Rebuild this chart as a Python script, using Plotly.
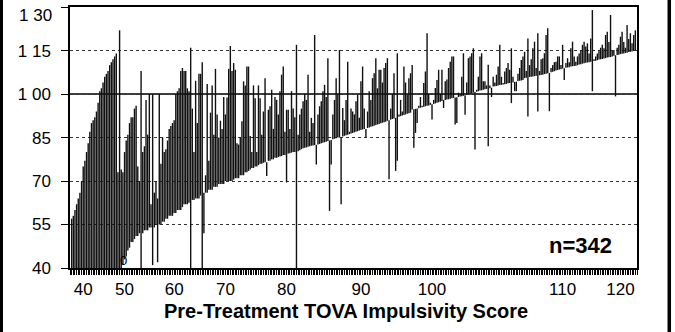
import plotly.graph_objects as go

# ---------------- data ----------------
# one vertical line per subject, ordered by pre-treatment TOVA score
pre = [
    40, 40, 40, 40, 40, 40, 40, 40, 40, 40, 40, 40, 40, 40, 40, 40, 40, 40, 40, 40,
    40, 40, 40, 40, 40, 40, 40, 40, 40, 40,
    40, 41, 43, 44, 46, 47, 49, 49, 50, 51, 51, 52, 40, 52, 53, 53, 53, 54, 54, 41,
    54, 55, 42, 55, 55, 56, 56, 57, 57, 58, 58, 58, 59, 59, 60, 60, 60, 61,
    # 68-136
    62, 62, 62, 62.5, 40, 63.5, 63.5, 64, 64, 64, 65, 40, 66, 66, 66, 67, 67, 67, 68, 68,
    68, 69, 69, 69, 69, 70, 70, 70, 70, 70, 70.5, 71, 71, 71, 72, 72, 72, 73, 73, 73.5,
    74, 74.5, 74.5, 75, 75, 75.5, 76, 76, 76.3, 76.5, 76.5, 77, 77, 77.5, 77.5, 78, 78, 78.3, 78.5, 78.6,
    79, 79, 69.5, 79.5, 79.6, 79.8, 80, 80, 40,
    # 137-205
    80.3, 80.6, 81, 81.3, 81.5, 81.6, 81.8, 82, 82.2, 82.3, 82.4, 82.5, 82.6, 82.8, 83, 83.2, 83.4, 83.6, 83.8, 84,
    84.2, 84.4, 84.6, 84.8, 85, 85, 85, 85.4, 85.6, 85.8, 86, 86.2, 86.4, 86.6, 86.8, 87, 87.2, 87.4, 87.6, 87.8,
    88, 88, 88.3, 88.5, 88.7, 88.9, 89.1, 89.3, 89.5, 89.7, 89.9, 90.1, 90.3, 90.5, 90.8, 91, 91.2, 91.4, 91.6, 91.8,
    77, 92.2, 92.4, 92.6, 92.8, 93, 93.2, 93.4, 93.6,
    # 206-273
    94.7, 94.8, 94.9, 95, 95.1, 95.3, 95.5, 95.6, 95.8, 96, 96.1, 96.3, 96.5, 96.6, 96.8, 97, 97.2, 97.4, 97.6, 98,
    98, 98.1, 98.2, 98.4, 98.6, 98.7, 98.8, 98.9, 99, 99.2, 99.3, 99.4, 99.6, 99.8, 100, 100.1, 100.3, 100.5, 100.7, 100.8,
    101, 101.2, 101.3, 101.5, 101.7, 101.8, 82, 102, 102.2, 102.6, 102.7, 102.8, 103, 103.1, 103.2, 103.3, 103.4, 103.5, 103.7, 103.8,
    96.9, 104, 104.2, 104.3, 104.5, 104.6, 104.7, 104.9,
    # 274-341
    105.5, 105.6, 92.3, 105.9, 106, 106.1, 106.2, 106.3, 94, 106.5, 106.6, 106.7, 106.9, 107, 107.2, 107.3, 107.5, 107.7, 107.9, 108.1,
    108.3, 108.5, 108.6, 108.8, 108.9, 109.1, 109.2, 109.3, 109.5, 109.6, 109.7, 109.8, 110, 110.2, 110.3, 110.5, 110.6, 110.8, 110.9, 111,
    111.2, 101, 111.4, 111.5, 111.7, 111.9, 112, 112.1, 112.3, 112.4, 112.6, 112.7, 112.8, 113, 113.2, 113.4, 113.5, 113.6, 113.8, 113.9,
    114, 114.2, 114.3, 114.5, 114.6, 114.7, 114.9, 115,
]

post = [
    57, 58, 60, 62, 64, 66, 70, 75, 77, 80, 83, 87, 90, 91, 92, 94, 97, 101, 102, 104,
    106, 107, 108, 110, 111, 112, 113, 114, 73, 122,
    74, 73, 80, 84, 86, 90, 92, 92, 95, 96, 75, 70, 108, 80, 82, 98, 86, 100, 62, 100,
    66, 70, 64, 100, 76, 85, 80, 81, 84, 88, 89, 90, 91, 100, 101, 102, 108, 109,
    # 68-136
    108, 108, 102, 101, 116, 95, 80, 104.6, 90, 107, 107, 111, 52, 72, 103.5, 77, 93.6, 103, 86, 108.7,
    93, 85, 90.8, 88, 99, 93, 98.8, 108.7, 116.6, 108, 110.7, 108.4, 83, 82.6, 85, 90.6, 104.4, 103, 109.5, 109.5,
    85.5, 80, 103, 98.6, 80, 103, 98.6, 86, 94, 105.5, 71.7, 94.6, 95.8, 101.5, 88, 99, 98, 93, 101, 106.7,
    109.5, 87, 94.6, 94.6, 88, 101, 95, 92, 117,
    # 137-205
    86, 93, 95, 97.5, 100, 98, 106.7, 87, 91.8, 90, 120.4, 75.7, 93, 95.8, 97.5, 101, 103.2, 99, 112.4, 59.7,
    75.7, 93, 98, 105.5, 100, 115.2, 62, 95.2, 91, 98, 111.2, 87, 95, 94, 93, 97.5, 99.8, 91.8, 104.4, 109.5,
    95, 85, 94, 101, 98, 105.5, 107.2, 112.4, 102, 108.4, 108.4, 104, 109, 110.7, 112.4, 70.6, 95, 100, 107.2, 73.5,
    114.1, 93, 98, 94, 109.5, 104, 99.8, 105.5, 107.2,
    # 206-273
    110, 81.5, 86.6, 90, 96, 99, 96, 103.8, 107.8, 121, 100, 97, 91.2, 98, 102.1, 104.9, 108.4, 100, 108.4, 95.2,
    104.4, 105, 109, 111.2, 113, 113, 89.5, 90, 100.5, 100, 106, 114.1, 92.9, 104, 112.4, 113, 114.1, 115.8, 80.9, 101.5,
    106, 113, 114.1, 104.4, 104.4, 103, 110.1, 103, 99, 106, 104, 106.7, 109.5, 117, 106, 103.8, 107.8, 109, 110.7, 108.4,
    115.8, 106, 101, 101, 107, 109, 111.8, 113,
    # 274-341
    114.6, 108, 119.2, 110, 112, 115.8, 118.1, 109, 121, 108, 112, 112.4, 114.1, 120.4, 122.7, 94.1, 109, 110, 111, 111.2,
    113, 113, 110, 117, 104.9, 110.7, 112.4, 111, 115.8, 118.1, 113, 111.2, 113, 114, 115.2, 117, 118.1, 116.4, 117.5, 114,
    119.2, 129, 112, 113, 114, 115, 116, 117, 115.8, 120.4, 121.5, 118, 127.3, 115, 115.2, 99.2, 116, 117, 119.8, 121.5,
    118, 116, 123.8, 119, 121, 117.5, 120.4, 122,
]

x_tick_index = [7, 32, 62, 93, 130, 175, 218, 297, 332]
x_tick_labels = ["40", "50", "60", "70", "80", "90", "100", "110", "120"]
y_tick_vals = [40, 55, 70, 85, 100, 115, 130]
y_tick_labels = ["40", "55", "70", "85", "1 00", "1 15", "1 30"]
x_title = "Pre-Treatment TOVA Impulsivity Score"
n_label = "n=342"

# ---------------- figure ----------------
xs, ys = [], []
for i, (a, b) in enumerate(zip(pre, post)):
    xs += [i, i, None]
    ys += [a, b, None]

FONT = "Liberation Sans, Arial, Helvetica, sans-serif"

fig = go.Figure()
fig.add_trace(go.Scatter(x=xs, y=ys, mode="lines",
                         line=dict(color="#111111", width=1.4),
                         hoverinfo="skip", showlegend=False))

fig.update_layout(
    width=675, height=332,
    margin=dict(l=70, r=38, t=7, b=64),
    paper_bgcolor="white", plot_bgcolor="white",
    showlegend=False,
    font=dict(family=FONT, color="black"),
)

fig.update_xaxes(
    range=[-1, len(pre)], automargin=False,
    tickmode="array", tickvals=x_tick_index, ticktext=x_tick_labels,
    ticks="outside", ticklen=5, tickcolor="black", tickwidth=1.2,
    tickfont=dict(family=FONT, size=17, color="black"),
    showline=True, linecolor="black", linewidth=1.5, mirror=True,
    showgrid=False, zeroline=False,
    minor=dict(tickmode="linear", tick0=0, dtick=1, ticks="outside",
               ticklen=5, tickcolor="black", tickwidth=1, showgrid=False),
)

# the top label sits a little below its tick in the original, so it is an annotation
y_ticktext_axis = y_tick_labels[:-1] + [""]
fig.update_yaxes(
    range=[40, 130.05], automargin=False,
    tickmode="array", tickvals=y_tick_vals, ticktext=y_ticktext_axis,
    ticks="outside", ticklen=7, tickcolor="black", tickwidth=1,
    tickfont=dict(family=FONT, size=17, color="black"),
    ticklabelstandoff=7,
    showline=True, linecolor="black", linewidth=1.5, mirror=True,
    showgrid=True, gridcolor="#333333", gridwidth=1.2, griddash="dot",
    zeroline=False,
)
fig.add_annotation(text=y_tick_labels[-1], xref="paper", yref="y",
                   x=-0.0275, y=y_tick_vals[-1], yshift=-8,
                   xanchor="right", yanchor="middle", showarrow=False,
                   font=dict(family=FONT, size=17, color="black"))

# solid reference line at 100
fig.add_shape(type="line", xref="paper", yref="y", x0=0, x1=1, y0=100, y1=100,
              line=dict(color="black", width=1.5), layer="below")

# outer frame bars (left and right of the scanned page)
fig.add_shape(type="rect", xref="paper", yref="paper",
              x0=-0.1235, x1=-0.1182, y0=-0.26, y1=1.05,
              fillcolor="black", line=dict(width=0))
fig.add_shape(type="rect", xref="paper", yref="paper",
              x0=1.0538, x1=1.0600, y0=-0.26, y1=1.05,
              fillcolor="black", line=dict(width=0))

fig.add_annotation(text="<b>" + x_title + "</b>", xref="paper", yref="paper",
                   x=0.486, y=-0.165, xanchor="center", yanchor="middle",
                   showarrow=False, font=dict(family=FONT, size=20, color="black"))
fig.add_annotation(text="<b>" + n_label + "</b>", xref="paper", yref="paper",
                   x=0.8995, y=0.085, xanchor="center", yanchor="middle",
                   showarrow=False, font=dict(family=FONT, size=22, color="black"))
fig.add_annotation(text="0", xref="paper", yref="paper",
                   x=0.0952, y=0.027, xanchor="center", yanchor="middle",
                   showarrow=False, font=dict(family=FONT, size=13, color="black"))

fig.write_html("out.html")
